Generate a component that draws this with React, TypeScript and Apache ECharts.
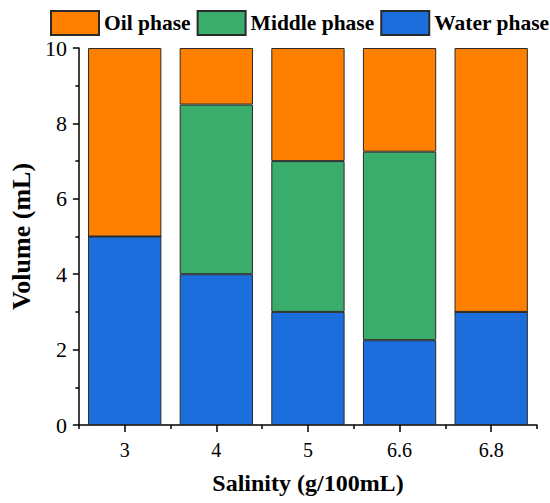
import React, { useEffect, useRef } from "react";
import * as echarts from "echarts";

const categories = ["3", "4", "5", "6.6", "6.8"];
const waterPhase = [5, 4, 3, 2.25, 3];
const middlePhase = [0, 4.5, 4, 5, 0];
const oilPhase = [5, 1.5, 3, 2.75, 7];
const yTicks = [0, 2, 4, 6, 8, 10];

const FONT = "Liberation Serif";

export default function App() {
  const ref = useRef<HTMLDivElement>(null);
  useEffect(() => {
    document.body.style.margin = "0";
    if (!ref.current) return;
    const chart = echarts.init(ref.current, undefined, { renderer: "svg" });
    const border = { borderColor: "#2a2a2a", borderWidth: 1 };
    chart.setOption({
      animation: false,
      backgroundColor: "#ffffff",
      legend: {
        data: ["Oil phase", "Middle phase", "Water phase"],
        left: 50,
        top: 10,
        width: 500,
        padding: 0,
        itemWidth: 48,
        itemHeight: 24,
        itemGap: 6,
        icon: "rect",
        textStyle: { fontFamily: FONT, fontWeight: "bold", fontSize: 21.5, color: "#000" },
      },
      grid: { left: 67, right: 13, top: 48, bottom: 78, containLabel: false },
      xAxis: [
        {
          type: "category",
          data: categories,
          name: "Salinity (g/100mL)",
          nameLocation: "middle",
          nameGap: 46,
          nameTextStyle: { fontFamily: FONT, fontWeight: "bold", fontSize: 24, color: "#000" },
          axisLine: { show: true, lineStyle: { color: "#000", width: 1.5 } },
          axisTick: { show: true, alignWithLabel: true, length: 7, lineStyle: { color: "#000", width: 1.5 } },
          axisLabel: { fontFamily: FONT, fontSize: 20, color: "#000", margin: 15 },
        },
        {
          type: "category",
          data: categories,
          position: "bottom",
          axisLine: { show: false },
          axisTick: { show: true, length: 4, lineStyle: { color: "#000", width: 1.5 } },
          axisLabel: { show: false },
        },
      ],
      yAxis: {
        type: "value",
        min: 0,
        max: 10,
        interval: 2,
        name: "Volume (mL)",
        nameLocation: "middle",
        nameGap: 36,
        nameTextStyle: { fontFamily: FONT, fontWeight: "bold", fontSize: 26, color: "#000" },
        axisLine: { show: true, lineStyle: { color: "#000", width: 1.5 } },
        axisTick: { show: true, length: 6, lineStyle: { color: "#000", width: 1.5 } },
        minorTick: { show: true, splitNumber: 2, length: 3.5, lineStyle: { color: "#000", width: 1.5 } },
        splitLine: { show: false },
        axisLabel: {
          fontFamily: FONT,
          fontSize: 22,
          color: "#000",
          margin: 12,
          formatter: (v: number) => (yTicks.includes(v) ? String(v) : ""),
        },
      },
      series: [
        {
          name: "Water phase",
          type: "bar",
          stack: "total",
          barWidth: "80%",
          data: waterPhase,
          itemStyle: { color: "#1c6edd", ...border },
        },
        {
          name: "Middle phase",
          type: "bar",
          stack: "total",
          barWidth: "80%",
          data: middlePhase,
          itemStyle: { color: "#3aad6d", ...border },
        },
        {
          name: "Oil phase",
          type: "bar",
          stack: "total",
          barWidth: "80%",
          data: oilPhase,
          itemStyle: { color: "#ff8000", ...border },
        },
      ],
    });
    return () => chart.dispose();
  }, []);
  return (
    <div
      ref={ref}
      style={{ position: "absolute", left: 0, top: 0, width: 550, height: 503 }}
    />
  );
}
